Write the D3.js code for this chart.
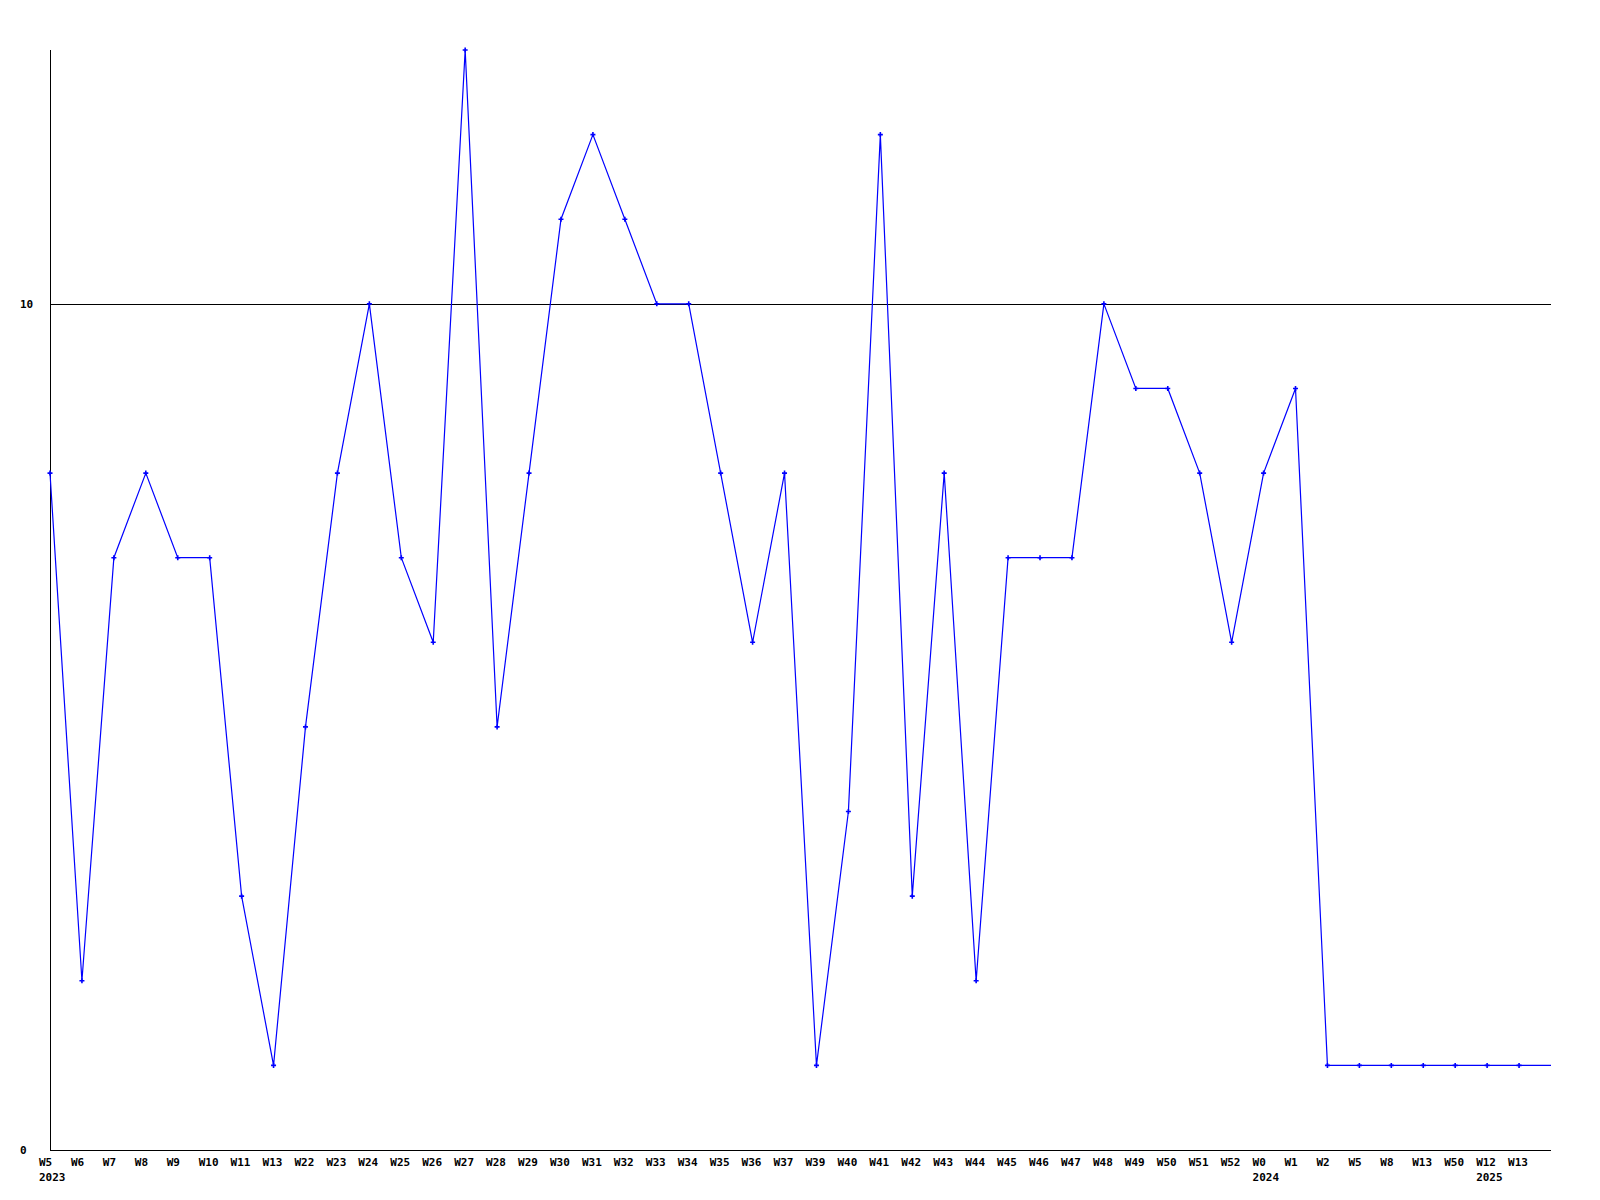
<!DOCTYPE html>
<html>
<head>
<meta charset="utf-8">
<script src="https://cdn.jsdelivr.net/npm/d3@7"></script>
<style>
  html, body { margin: 0; padding: 0; background: #fff; }
  svg { display: block; }
  text { font-family: "DejaVu Sans Mono", "Liberation Mono", monospace; font-weight: bold; font-size: 11px; fill: #000; }
</style>
</head>
<body>
<svg id="chart" width="1600" height="1200"></svg>
<script>
const weeks = ["W5","W6","W7","W8","W9","W10","W11","W13","W22","W23","W24","W25","W26","W27","W28","W29","W30","W31","W32","W33","W34","W35","W36","W37","W39","W40","W41","W42","W43","W44","W45","W46","W47","W48","W49","W50","W51","W52","W0","W1","W2","W5","W8","W13","W50","W12","W13"];
const values = [8,2,7,8,7,7,3,1,5,8,10,7,6,13,5,8,11,12,11,10,10,8,6,8,1,4,12,3,8,2,7,7,7,10,9,9,8,6,8,9,1,1,1,1,1,1,1];
const yearLabels = [{index: 0, label: "2023"}, {index: 38, label: "2024"}, {index: 45, label: "2025"}];
const yTicks = [0, 10];
const yMax = 13;

const svg = d3.select("#chart");
const mLeft = 50, mRight = 1551, mTop = 50, mBottom = 1150;

const x = d3.scaleLinear().domain([0, weeks.length]).range([mLeft, mRight]);
const y = d3.scaleLinear().domain([0, yMax]).range([mBottom, mTop]);

// axes lines
svg.append("line").attr("x1", mLeft + 0.5).attr("x2", mLeft + 0.5).attr("y1", mTop).attr("y2", mBottom)
  .attr("stroke", "#000").attr("stroke-width", 1);
svg.append("line").attr("x1", mLeft).attr("x2", mRight).attr("y1", mBottom + 0.5).attr("y2", mBottom + 0.5)
  .attr("stroke", "#000").attr("stroke-width", 1);

// y tick labels + grid lines
yTicks.forEach(t => {
  if (t > 0) {
    svg.append("line").attr("x1", mLeft).attr("x2", mRight)
      .attr("y1", Math.round(y(t)) + 0.5).attr("y2", Math.round(y(t)) + 0.5)
      .attr("stroke", "#000").attr("stroke-width", 1);
  }
  svg.append("text").attr("x", 20).attr("y", y(t)).attr("dy", "0.35em")
    .attr("text-anchor", "start").text(t);
});

// x labels (left-aligned slightly before each point)
svg.selectAll("text.wk").data(weeks).join("text").attr("class", "wk")
  .attr("x", (d, i) => x(i) - 11).attr("y", 1166).attr("text-anchor", "start").text(d => d);
svg.selectAll("text.yr").data(yearLabels).join("text").attr("class", "yr")
  .attr("x", d => x(d.index) - 11).attr("y", 1181).attr("text-anchor", "start").text(d => d.label);

// line (extends to the right edge with the last value)
const pts = values.map((v, i) => [x(i), y(v)]);
pts.push([x(weeks.length), y(values[values.length - 1])]);
svg.append("path").attr("d", d3.line()(pts)).attr("fill", "none")
  .attr("stroke", "#0000ff").attr("stroke-width", 1.2);

// markers
svg.selectAll("path.mk").data(values).join("path").attr("class", "mk")
  .attr("transform", (d, i) => `translate(${x(i)},${y(d)})`)
  .attr("d", "M-2.5,-0.8H-0.8V-2.5H0.8V-0.8H2.5V0.8H0.8V2.5H-0.8V0.8H-2.5Z")
  .attr("fill", "#0000ff");
</script>
</body>
</html>
